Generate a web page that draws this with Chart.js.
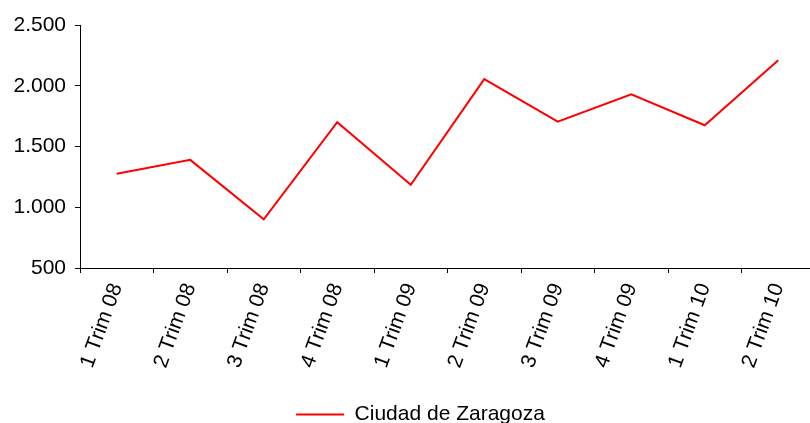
<!DOCTYPE html>
<html>
<head>
<meta charset="utf-8">
<script src="https://cdn.jsdelivr.net/npm/chart.js@4/dist/chart.umd.min.js"></script>
<style>
    html, body { margin: 0; padding: 0; background: #FFFFFF; overflow: hidden; }
    #wrap { position: relative; width: 818px; height: 423px; }
</style>
</head>
<body>
<div id="wrap"><canvas id="chart"></canvas></div>
<script>
"use strict";

/*==========================================================
    Ciudad de Zaragoza - quarterly series
==========================================================*/

const categories = [
    "1 Trim 08", "2 Trim 08", "3 Trim 08", "4 Trim 08",
    "1 Trim 09", "2 Trim 09", "3 Trim 09", "4 Trim 09",
    "1 Trim 10", "2 Trim 10"
];

const zaragozaValues = [1275, 1390, 900, 1700, 1185, 2055, 1705, 1930, 1675, 2210];

const seriesLabel = "Ciudad de Zaragoza";

const yTicks = [500, 1000, 1500, 2000, 2500];

const FONT = "'Liberation Sans', Arial, sans-serif";

function formatThousands(value) {
    return String(value).replace(/\B(?=(\d{3})+(?!\d))/g, ".");
}

// the original legend sits right of centre and close to the bottom edge
const legendShift = {
    id: "legendShift",
    afterLayout(chart) {
        if (!chart.legend) return;
        chart.legend.left += 13;
        chart.legend.right += 13;
        chart.legend.top += 12;
        chart.legend.bottom += 12;
    }
};

new Chart(document.getElementById("chart"), {

    type: "line",

    data: {
        labels: categories,
        datasets: [
            {
                label: seriesLabel,
                data: zaragozaValues,
                borderColor: "#FF0000",
                backgroundColor: "#FF0000",
                borderWidth: 2,
                pointRadius: 0,
                tension: 0
            }
        ]
    },

    plugins: [legendShift],

    options: {
        responsive: true,
        maintainAspectRatio: false,
        animation: false,

        layout: {
            padding: { top: 25, right: 3, left: 0, bottom: 0 }
        },

        scales: {
            x: {
                offset: true,
                grid: {
                    offset: true,
                    drawOnChartArea: false,
                    color: "#000000",
                    tickLength: 5
                },
                border: { color: "#000000", width: 1 },
                ticks: {
                    color: "#000000",
                    font: { family: FONT, size: 21 },
                    minRotation: 70,
                    maxRotation: 70,
                    padding: 7,
                    autoSkip: false
                },
                afterFit(scale) {
                    scale.height = 124;
                }
            },
            y: {
                min: 500,
                max: 2500,
                afterBuildTicks(scale) {
                    scale.ticks = yTicks.map((v) => ({ value: v }));
                },
                grid: {
                    drawOnChartArea: false,
                    color: "#000000",
                    tickLength: 5
                },
                border: { color: "#000000", width: 1 },
                ticks: {
                    color: "#000000",
                    font: { family: FONT, size: 21 },
                    padding: 9,
                    callback: (value) => formatThousands(value)
                },
                afterFit(scale) {
                    scale.width = 80;
                }
            }
        },

        plugins: {
            legend: {
                position: "bottom",
                labels: {
                    color: "#000000",
                    font: { family: FONT, size: 21 },
                    boxWidth: 48,
                    boxHeight: 2,
                    padding: 0,
                    generateLabels(chart) {
                        const items = Chart.defaults.plugins.legend.labels.generateLabels(chart);
                        return items.map((item) => Object.assign(item, { lineWidth: 0, fillStyle: "#FF0000" }));
                    }
                }
            },
            tooltip: { enabled: false }
        }
    }

});
</script>
</body>
</html>
